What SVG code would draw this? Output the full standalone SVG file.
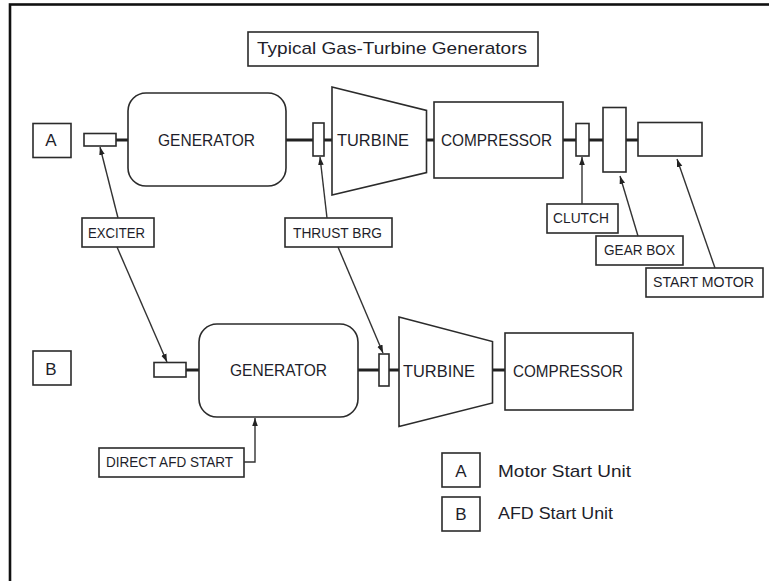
<svg xmlns="http://www.w3.org/2000/svg" width="769" height="581" viewBox="0 0 769 581">
<defs>
<marker id="arr" viewBox="0 0 10 10" refX="10" refY="5" markerWidth="8" markerHeight="8" markerUnits="userSpaceOnUse" orient="auto">
<path d="M0,1.5 L10,5 L0,8.5 Z" fill="#222"/>
</marker>
<style>
.box{fill:#fff;stroke:#2b2b2b;stroke-width:1.6}
.shaft{stroke:#222;stroke-width:3;fill:none}
.conn{stroke:#333;stroke-width:1.4;fill:none}
text{font-family:"Liberation Sans",Arial,sans-serif;fill:#1e1e2a}
.big{font-size:17px}
.lbl{font-size:15px}
</style>
</defs>
<rect width="769" height="581" fill="#fff"/>
<rect id="frame" x="10" y="4.5" width="800" height="620" fill="none" stroke="#111" stroke-width="2.6"/>

<g id="title">
<rect class="box" x="248" y="32" width="290" height="34"/>
<text class="big" x="257" y="54" textLength="270" lengthAdjust="spacingAndGlyphs">Typical Gas-Turbine Generators</text>
</g>

<g id="shafts">
<line class="shaft" x1="116" y1="140" x2="128" y2="140"/>
<line class="shaft" x1="286" y1="140" x2="313" y2="140"/>
<line class="shaft" x1="324" y1="140" x2="332" y2="140"/>
<line class="shaft" x1="426" y1="140" x2="434" y2="140"/>
<line class="shaft" x1="563" y1="140" x2="576" y2="140"/>
<line class="shaft" x1="589" y1="140" x2="603" y2="140"/>
<line class="shaft" x1="626" y1="140" x2="638" y2="140"/>
<line class="shaft" x1="186" y1="370" x2="199" y2="370"/>
<line class="shaft" x1="358" y1="370" x2="379" y2="370"/>
<line class="shaft" x1="389" y1="370" x2="399" y2="370"/>
<line class="shaft" x1="492" y1="370" x2="505" y2="370"/>
</g>

<g id="unitA-label">
<rect class="box" x="33" y="123.5" width="38" height="34"/>
<text class="big" x="51" y="146" text-anchor="middle">A</text>
</g>
<g id="exciterA"><rect class="box" x="84" y="133.5" width="32" height="12.5"/></g>
<g id="generatorA">
<rect class="box" x="128" y="93" width="158" height="93" rx="18" ry="18"/>
<text class="big" x="158" y="146" textLength="97" lengthAdjust="spacingAndGlyphs">GENERATOR</text>
</g>
<g id="thrustA"><rect class="box" x="313" y="123" width="11" height="33"/></g>
<g id="turbineA">
<polygon class="box" points="332,87 426.5,110.5 426.5,172.5 332,195"/>
<text class="big" x="337" y="145.5" textLength="72" lengthAdjust="spacingAndGlyphs">TURBINE</text>
</g>
<g id="compressorA">
<rect class="box" x="434" y="102" width="129" height="76"/>
<text class="big" x="441" y="146" textLength="111" lengthAdjust="spacingAndGlyphs">COMPRESSOR</text>
</g>
<g id="clutchA"><rect class="box" x="576" y="123.5" width="13" height="32.5"/></g>
<g id="gearboxA"><rect class="box" x="603" y="107.5" width="23" height="64.5"/></g>
<g id="motorA"><rect class="box" x="638" y="122.5" width="64" height="33.5"/></g>

<g id="exciter-label">
<rect class="box" x="82" y="218" width="72" height="29"/>
<text class="lbl" x="88" y="238" textLength="57" lengthAdjust="spacingAndGlyphs">EXCITER</text>
</g>
<g id="thrust-label">
<rect class="box" x="285" y="218" width="107" height="29"/>
<text class="lbl" x="293" y="238" textLength="89" lengthAdjust="spacingAndGlyphs">THRUST BRG</text>
</g>
<g id="clutch-label">
<rect class="box" x="547" y="204" width="71" height="29"/>
<text class="lbl" x="553" y="222.5" textLength="56" lengthAdjust="spacingAndGlyphs">CLUTCH</text>
</g>
<g id="gearbox-label">
<rect class="box" x="596" y="236" width="87" height="29"/>
<text class="lbl" x="604" y="254.5" textLength="71" lengthAdjust="spacingAndGlyphs">GEAR BOX</text>
</g>
<g id="startmotor-label">
<rect class="box" x="646" y="268" width="117" height="29"/>
<text class="lbl" x="653" y="287" textLength="101" lengthAdjust="spacingAndGlyphs">START MOTOR</text>
</g>

<g id="unitB-label">
<rect class="box" x="33" y="351" width="38" height="34"/>
<text class="big" x="51" y="374.5" text-anchor="middle">B</text>
</g>
<g id="exciterB"><rect class="box" x="154" y="362.5" width="32" height="14.5"/></g>
<g id="generatorB">
<rect class="box" x="199" y="324" width="159" height="93" rx="18" ry="18"/>
<text class="big" x="230" y="376" textLength="97" lengthAdjust="spacingAndGlyphs">GENERATOR</text>
</g>
<g id="thrustB"><rect class="box" x="379" y="354" width="10" height="32"/></g>
<g id="turbineB">
<polygon class="box" points="399,317 492.5,341.5 492.5,403 399,426.5"/>
<text class="big" x="403" y="377" textLength="72" lengthAdjust="spacingAndGlyphs">TURBINE</text>
</g>
<g id="compressorB">
<rect class="box" x="505" y="333" width="128" height="77"/>
<text class="big" x="513" y="377" textLength="110" lengthAdjust="spacingAndGlyphs">COMPRESSOR</text>
</g>

<g id="afd-label">
<rect class="box" x="99" y="448" width="145" height="29"/>
<text class="lbl" x="106" y="467" textLength="127" lengthAdjust="spacingAndGlyphs">DIRECT AFD START</text>
</g>

<g id="legend">
<rect class="box" x="442" y="453" width="38" height="34"/>
<text class="big" x="461" y="477" text-anchor="middle">A</text>
<rect class="box" x="442" y="497" width="38" height="34"/>
<text class="big" x="461" y="520" text-anchor="middle">B</text>
<text class="big" x="498" y="477" textLength="133" lengthAdjust="spacingAndGlyphs">Motor Start Unit</text>
<text class="big" x="498" y="519" textLength="115" lengthAdjust="spacingAndGlyphs">AFD Start Unit</text>
</g>

<g id="connectors">
<line class="conn" x1="118" y1="218" x2="100" y2="147" marker-end="url(#arr)"/>
<line class="conn" x1="117" y1="247" x2="167" y2="362" marker-end="url(#arr)"/>
<line class="conn" x1="327" y1="218" x2="320" y2="157" marker-end="url(#arr)"/>
<line class="conn" x1="338" y1="247" x2="383" y2="353" marker-end="url(#arr)"/>
<line class="conn" x1="582" y1="204" x2="582" y2="157" marker-end="url(#arr)"/>
<line class="conn" x1="638" y1="236" x2="620" y2="176" marker-end="url(#arr)"/>
<line class="conn" x1="715" y1="268" x2="677" y2="159" marker-end="url(#arr)"/>
<polyline class="conn" points="244,462 255,462 255,418" marker-end="url(#arr)"/>
</g>
</svg>
